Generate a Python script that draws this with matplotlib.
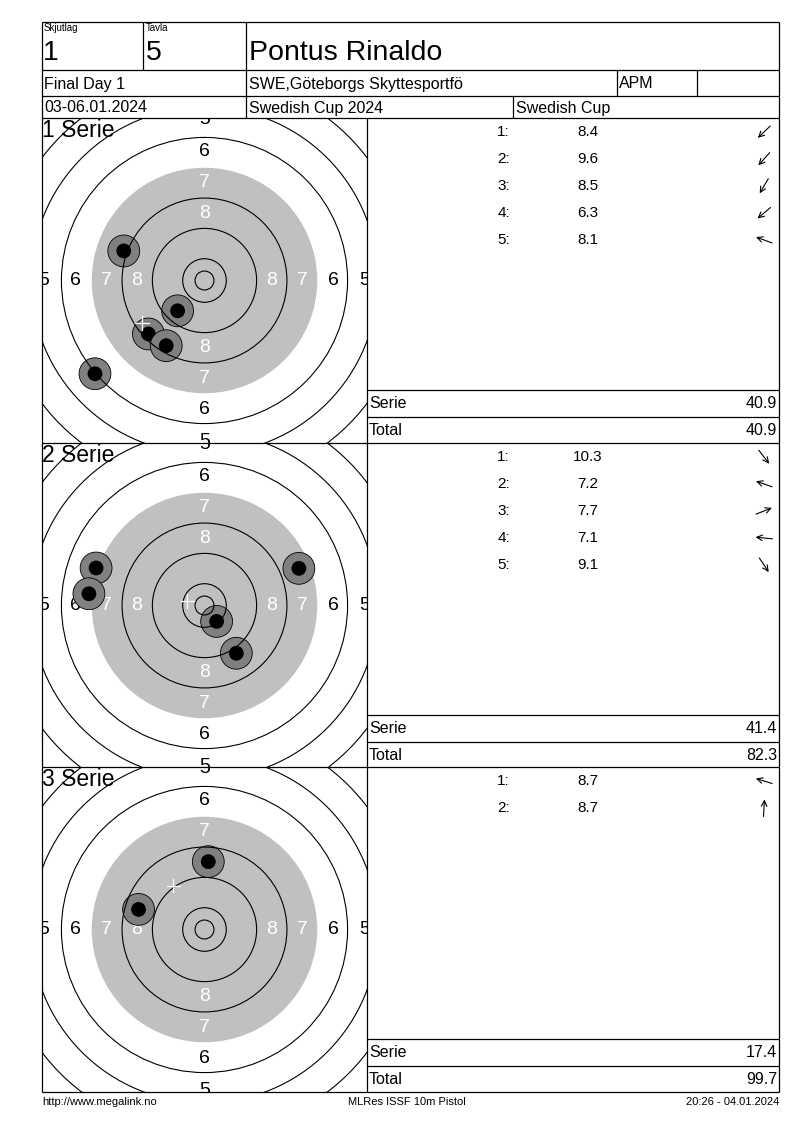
import numpy as np
import matplotlib
matplotlib.use("Agg")
import matplotlib.pyplot as plt
from matplotlib.patches import Circle

plt.rcParams['font.family'] = ['Liberation Sans', 'DejaVu Sans']

# ---------------- data ----------------
shooting_group = "1"
lane = "5"
shooter = "Pontus Rinaldo"
event = "Final Day 1"
club = "SWE,Göteborgs Skyttesportfö"
klass = "APM"
dates = "03-06.01.2024"
competition = "Swedish Cup 2024"
cup = "Swedish Cup"
footer_left = "http://www.megalink.no"
footer_mid = "MLRes ISSF 10m Pistol"
footer_right = "20:26 - 04.01.2024"

series_names = ["1 Serie", "2 Serie", "3 Serie"]

scores_s1 = [8.4, 9.6, 8.5, 6.3, 8.1]
x_s1 = [-14.8, -7.1, -10.1, -28.9, -21.3]
y_s1 = [-14.1, -8.0, -17.2, -24.6, 7.8]

scores_s2 = [10.3, 7.2, 7.7, 7.1, 9.1]
x_s2 = [3.2, -28.6, 24.9, -30.5, 8.4]
y_s2 = [-4.2, 9.9, 9.8, 3.1, -12.6]

scores_s3 = [8.7, 8.7]
x_s3 = [-17.4, 1.0]
y_s3 = [5.3, 17.9]

# ISSF 10m pistol target (mm)
ring_radii_mm = [2.5, 5.75, 13.75, 21.75, 37.75, 45.75, 53.75]
black_radius_mm = 29.75
label_values = [8, 7, 6, 5]
label_radii_mm = [17.8, 25.9, 34.0, 42.35]

series = [(scores_s1, x_s1, y_s1), (scores_s2, x_s2, y_s2), (scores_s3, x_s3, y_s3)]

# ---------------- layout ----------------
W, H = 800, 1130
fig = plt.figure(figsize=(W / 100, H / 100), dpi=100)

L, R = 42, 779
T = 22
row1, row2, row3 = 70, 96, 118
panel_tops = [118, 443, 767]
PH = 325
TW = 325  # target panel width
xsplit = L + TW
px_per_mm = 3.79
half = (TW / 2) / px_per_mm

# target axes
for i, (sc, xs, ys) in enumerate(series):
    top = panel_tops[i]
    tax = fig.add_axes([L / W, 1 - (top + PH) / H, TW / W, PH / H])
    tax.set_xlim(-half, half)
    tax.set_ylim(-half, half)
    tax.set_aspect('equal')
    tax.axis('off')
    tax.add_patch(Circle((0, 0), black_radius_mm, fc='#C0C0C0', ec='none', zorder=1))
    for v, r in zip(label_values, label_radii_mm):
        col = 'white' if r < black_radius_mm else 'black'
        for dx, dy in [(0, 1), (0, -1), (1, 0), (-1, 0)]:
            t = tax.text(dx * r, dy * r, str(v), ha='center', va='center', fontsize=14,
                         color=col, zorder=2)
            t.set_clip_path(tax.patch)
            t.set_clip_on(True)
    for k, (x, y) in enumerate(zip(xs, ys)):
        tax.add_patch(Circle((x, y), 4.2, fc='#808080', ec='black', lw=0.6, zorder=3 + k * 0.01))
        tax.add_patch(Circle((x, y), 1.95, fc='black', ec='none', zorder=3.005 + k * 0.01))
    for r in ring_radii_mm:
        tax.add_patch(Circle((0, 0), r, fill=False, ec='black', lw=0.8, zorder=4))
    mx, my = np.mean(xs), np.mean(ys)
    c = 1.8
    tax.plot([mx - c, mx + c], [my, my], color='white', lw=0.9, zorder=5)
    tax.plot([mx, mx], [my - c, my + c], color='white', lw=0.9, zorder=5)

# page axes (pixel coordinates), drawn on top
ax = fig.add_axes([0, 0, 1, 1])
ax.set_xlim(0, W)
ax.set_ylim(H, 0)
ax.axis('off')
ax.patch.set_visible(False)

lw = 0.9

def hline(y, x0=L, x1=R):
    ax.plot([x0, x1], [y, y], color='black', lw=lw, solid_capstyle='butt')

def vline(x, y0, y1):
    ax.plot([x, x], [y0, y1], color='black', lw=lw, solid_capstyle='butt')

bottom = panel_tops[-1] + PH
for y in [T, row1, row2, row3] + panel_tops[1:] + [bottom]:
    hline(y)
vline(L, T, bottom)
vline(R, T, bottom)
vline(143, T, row1)
vline(246, T, row3)
vline(617, row1, row2)
vline(697, row1, row2)
vline(513, row2, row3)
vline(xsplit, row3, bottom)

# header text
ax.text(44, 23, "Skjutlag", fontsize=7, ha='left', va='top')
ax.text(146, 23, "Tavla", fontsize=7, ha='left', va='top')
ax.text(43, 53, shooting_group, fontsize=20.5, ha='left', va='center')
ax.text(146, 53, lane, fontsize=20.5, ha='left', va='center')
ax.text(249, 53, shooter, fontsize=20.5, ha='left', va='center')
ax.text(44, 84, event, fontsize=11.5, ha='left', va='center')
ax.text(249, 84, club, fontsize=11.5, ha='left', va='center')
ax.text(619, 84, klass, fontsize=11.5, ha='left', va='center')
ax.text(44, 108, dates, fontsize=11.5, ha='left', va='center')
ax.text(249, 108, competition, fontsize=11.5, ha='left', va='center')
ax.text(516, 108, cup, fontsize=11.5, ha='left', va='center')

# series panels
running = 0.0
for i, (sc, xs, ys) in enumerate(series):
    top = panel_tops[i]
    ax.text(42, top + 1, series_names[i], fontsize=16.5, ha='left', va='top')
    for k, (s, x, y) in enumerate(zip(sc, xs, ys)):
        yc = top + 14 + 27 * k
        ax.text(510, yc, f"{k + 1}:", fontsize=11, ha='right', va='center')
        ax.text(588, yc, f"{s:.1f}", fontsize=11, ha='center', va='center')
        a = np.arctan2(y, x)
        d = np.array([np.cos(a), -np.sin(a)])
        Lr = 17
        c0 = np.array([764.0, yc])
        ax.annotate('', xy=tuple(c0 + d * Lr / 2), xytext=tuple(c0 - d * Lr / 2),
                    arrowprops=dict(arrowstyle='->', lw=0.8, color='black',
                                    shrinkA=0, shrinkB=0, mutation_scale=10))
    stot = float(np.sum(sc))
    running += stot
    ys1 = top + 272
    ys2 = top + 299
    hline(ys1, xsplit, R)
    hline(ys2, xsplit, R)
    ax.text(369, ys1 + 13.5, "Serie", fontsize=11.5, ha='left', va='center')
    ax.text(777, ys1 + 13.5, f"{stot:.1f}", fontsize=11.5, ha='right', va='center')
    ax.text(369, ys2 + 13.5, "Total", fontsize=11.5, ha='left', va='center')
    ax.text(777, ys2 + 13.5, f"{running:.1f}", fontsize=11.5, ha='right', va='center')

# footer
ax.text(42, 1102, footer_left, fontsize=8, ha='left', va='center')
ax.text(407, 1102, footer_mid, fontsize=8, ha='center', va='center')
ax.text(779, 1102, footer_right, fontsize=8, ha='right', va='center')

fig.savefig("out.png", dpi=100, facecolor='white')
